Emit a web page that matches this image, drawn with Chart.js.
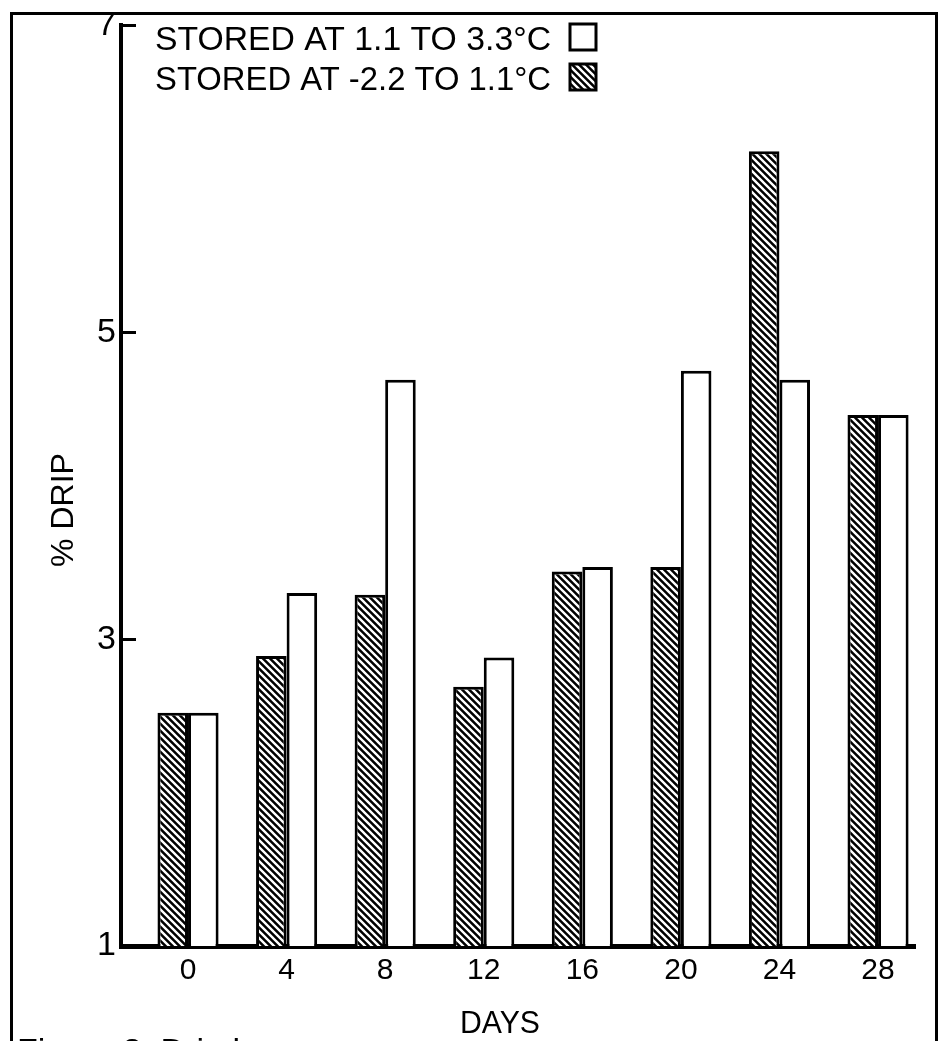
<!DOCTYPE html>
<html>
<head>
<meta charset="utf-8">
<script src="https://cdn.jsdelivr.net/npm/chart.js@4.4.0/dist/chart.umd.min.js"></script>
<style>
  html, body { margin: 0; padding: 0; background: #fff; }
  canvas { display: block; }
</style>
</head>
<body>
<canvas id="dripChart" width="942" height="1041"></canvas>
<script>
const days = [0, 4, 8, 12, 16, 20, 24, 28];
const dripColder = [2.52, 2.89, 3.29, 2.69, 3.44, 3.47, 6.18, 4.46];   // -2.2 to 1.1 °C (hatched)
const dripWarmer = [2.52, 3.30, 4.69, 2.88, 3.47, 4.75, 4.69, 4.46];   // 1.1 to 3.3 °C (open)
const yTicks = [1, 3, 5, 7];
const legendLabels = ['STORED AT 1.1 TO 3.3°C', 'STORED AT -2.2 TO 1.1°C'];

const FONT = "'Liberation Sans', Arial, sans-serif";

const canvas = document.getElementById('dripChart');
const ctx = canvas.getContext('2d');

// Diagonal hatch: black ground with white "\" lines
function makeHatch() {
    const tile = document.createElement('canvas');
    tile.width = 7;
    tile.height = 7;
    const g = tile.getContext('2d');
    g.fillStyle = '#000';
    g.fillRect(0, 0, 7, 7);
    g.strokeStyle = '#fff';
    g.lineWidth = 2.4;
    g.beginPath();
    g.moveTo(-1, -1); g.lineTo(8, 8);
    g.moveTo(-1, 6); g.lineTo(1, 8);
    g.moveTo(6, -1); g.lineTo(8, 1);
    g.stroke();
    return ctx.createPattern(tile, 'repeat');
}

const hatch = makeHatch();

const paperPlugin = {
    id: 'paper',
    afterDraw(chart) {
        const { ctx, chartArea, scales: { y } } = chart;
        ctx.save();
        ctx.strokeStyle = '#000';
        ctx.fillStyle = '#000';

        // inward tick marks on the y axis
        ctx.lineWidth = 3;
        yTicks.slice(1).forEach(v => {
            const py = Math.round(y.getPixelForValue(v)) + 0.5;
            ctx.beginPath();
            ctx.moveTo(chartArea.left, py);
            ctx.lineTo(chartArea.left + 15, py);
            ctx.stroke();
        });

        // legend, text first then the swatch
        ctx.font = `34px ${FONT}`;
        ctx.textAlign = 'left';
        ctx.textBaseline = 'alphabetic';
        ctx.fillText(legendLabels[0], 155, 50, 396);
        ctx.fillText(legendLabels[1], 155, 90, 396);
        ctx.lineWidth = 3;
        ctx.fillStyle = '#fff';
        ctx.fillRect(570, 24, 26, 26);
        ctx.strokeRect(570, 24, 26, 26);
        ctx.fillStyle = hatch;
        ctx.fillRect(570, 64, 26, 26);
        ctx.strokeRect(570, 64, 26, 26);

        // axis titles
        ctx.fillStyle = '#000';
        ctx.font = `32px ${FONT}`;
        ctx.textAlign = 'center';
        ctx.fillText('DAYS', 500, 1033, 80);
        ctx.save();
        ctx.translate(73, 510);
        ctx.rotate(-Math.PI / 2);
        ctx.fillText('% DRIP', 0, 0);
        ctx.restore();

        // caption, cut off by the page edge
        ctx.textAlign = 'left';
        ctx.font = `34px ${FONT}`;
        ctx.fillText('Figure 3. Drip loss', 17, 1062);

        // outer frame (open at the bottom)
        ctx.lineWidth = 3;
        ctx.beginPath();
        ctx.moveTo(11.5, 1041);
        ctx.lineTo(11.5, 13.5);
        ctx.lineTo(936.5, 13.5);
        ctx.lineTo(936.5, 1041);
        ctx.stroke();

        ctx.restore();
    }
};

new Chart(ctx, {
    type: 'bar',
    data: {
        datasets: [
            {
                label: legendLabels[1],
                data: days.map((d, i) => ({ x: d, y: dripColder[i] })),
                backgroundColor: hatch,
                borderColor: '#000',
                borderWidth: 3,
                borderSkipped: 'bottom'
            },
            {
                label: legendLabels[0],
                data: days.map((d, i) => ({ x: d, y: dripWarmer[i] })),
                backgroundColor: '#fff',
                borderColor: '#000',
                borderWidth: 3,
                borderSkipped: 'bottom'
            }
        ]
    },
    options: {
        responsive: false,
        animation: false,
        devicePixelRatio: 1,
        categoryPercentage: 0.62,
        barPercentage: 1,
        layout: { padding: { top: 25, right: 27, left: 0, bottom: 0 } },
        plugins: {
            legend: { display: false },
            tooltip: { enabled: false }
        },
        scales: {
            x: {
                type: 'linear',
                offset: false,
                min: -2.72,
                max: 29.5,
                afterBuildTicks: s => { s.ticks = days.map(v => ({ value: v })); },
                afterFit: s => { s.height = 95; },
                grid: { display: false, drawTicks: false, offset: false },
                border: { display: true, color: '#000', width: 5 },
                ticks: { color: '#000', padding: 7, font: { family: FONT, size: 30 } }
            },
            y: {
                min: 1,
                max: 7,
                afterBuildTicks: s => { s.ticks = yTicks.map(v => ({ value: v })); },
                afterFit: s => { s.width = 121; },
                grid: { display: false, drawTicks: false },
                border: { display: true, color: '#000', width: 4 },
                ticks: { color: '#000', padding: 5, font: { family: FONT, size: 34 } }
            }
        }
    },
    plugins: [paperPlugin]
});
</script>
</body>
</html>
